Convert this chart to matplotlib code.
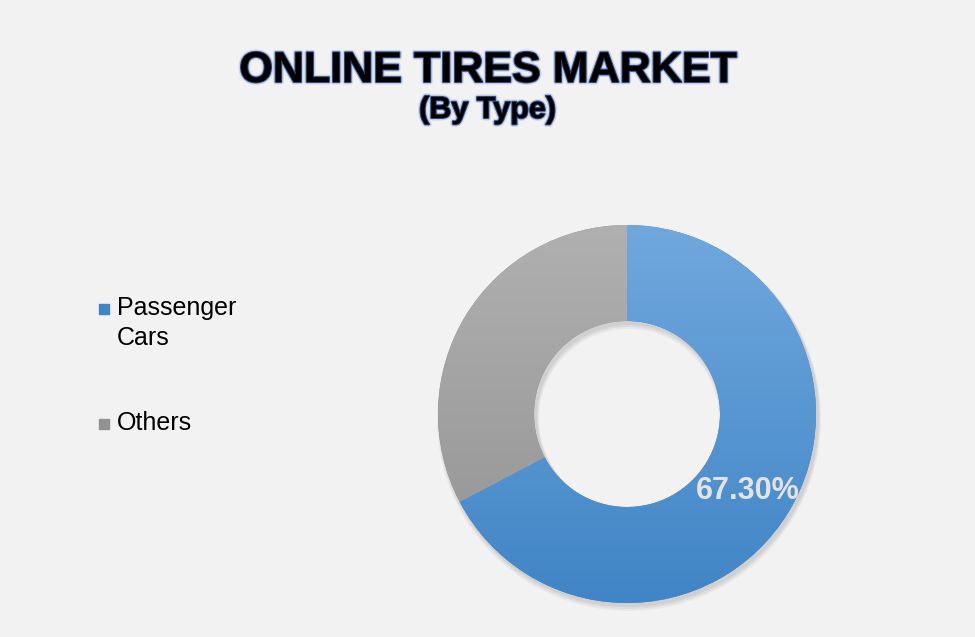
import numpy as np
import matplotlib.pyplot as plt
import matplotlib.patheffects as pe
from matplotlib.colors import to_rgb

plt.rcParams['font.family'] = ['Liberation Sans', 'DejaVu Sans']

categories = ["Passenger\nCars", "Others"]
shares = [67.3, 32.7]
colors_top = ["#70a8dd", "#b0b0b0"]
colors_bottom = ["#4085c6", "#929292"]
title = "ONLINE TIRES MARKET"
subtitle = "(By Type)"

fig = plt.figure(figsize=(9.75, 6.37), dpi=100)
fig.patch.set_facecolor("#f2f2f2")

# full-figure axes in pixel units (y up)
ax = fig.add_axes([0, 0, 1, 1])
ax.set_facecolor("#f2f2f2")

cx, cy = 627, 637 - 414
r_out, r_in = 189, 93

# soft shadow under the ring
for i, a in enumerate([0.05, 0.05, 0.04]):
    ax.pie([1], center=(cx + 2, cy - 3 - i), radius=r_out + 1 + i,
           colors=["#000000"], wedgeprops=dict(width=r_out - r_in + 2 + 2 * i, alpha=a, linewidth=0))

wedges, texts, autotexts = ax.pie(
    shares, center=(cx, cy), radius=r_out, startangle=90, counterclock=False,
    colors=colors_bottom, wedgeprops=dict(width=r_out - r_in, linewidth=0),
    autopct=lambda p: f"{p:.2f}%" if p > 50 else "",
    pctdistance=(r_out + r_in) / 2 / r_out,
    textprops=dict(color="#e3e3e3", fontsize=22, fontweight="bold"))

# vertical gradient fill for each wedge
grad = np.linspace(0, 1, 256).reshape(-1, 1)
for w, ct, cb in zip(wedges, colors_top, colors_bottom):
    top = np.array(to_rgb(ct))
    bot = np.array(to_rgb(cb))
    img = bot + (top - bot) * grad[:, :, None]
    im = ax.imshow(img, extent=(cx - r_out, cx + r_out, cy - r_out, cy + r_out),
                   origin="lower", aspect="auto", zorder=w.get_zorder() + 0.1)
    im.set_clip_path(w)
for t in autotexts:
    t.set_zorder(5)
    x, y = t.get_position()
    t.set_position((x, y - 4))

ax.set_xlim(0, 975)
ax.set_ylim(0, 637)
ax.set_aspect("equal")
ax.axis("off")

# title with navy glow outline
glow = [pe.withStroke(linewidth=3.5, foreground="#8aa6d6", alpha=0.4),
        pe.withStroke(linewidth=1.5, foreground="#2a4a85")]
fig.text(0.5, 1 - 71 / 637, title, ha="center", va="center", fontsize=31,
         fontweight="bold", color="black", path_effects=glow)
fig.text(0.5, 1 - 110 / 637, subtitle, ha="center", va="center", fontsize=22,
         fontweight="bold", color="black", path_effects=glow)

# legend on the left
leg_y = [309, 424]
for lab, c, y in zip(categories, colors_bottom, leg_y):
    ax.scatter([104], [637 - y], marker="s", s=50, color=c, zorder=5)
    ax.text(117, 637 - y + 13, lab, ha="left", va="top", fontsize=18,
            color="black", linespacing=1.3)

fig.savefig("out.png", dpi=100, facecolor=fig.get_facecolor())
